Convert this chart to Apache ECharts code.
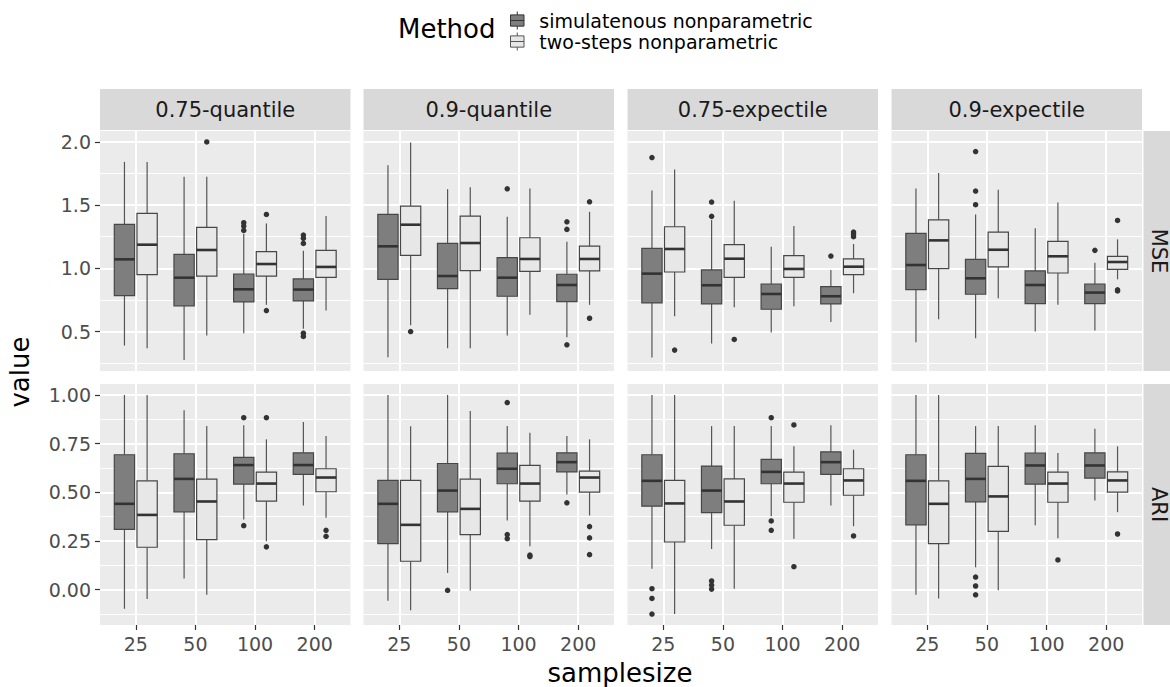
<!DOCTYPE html>
<html><head><meta charset="utf-8">
<script src="https://cdn.jsdelivr.net/npm/echarts@6/dist/echarts.min.js"></script>
<style>html,body{margin:0;padding:0;background:#fff}#c{width:1170px;height:687px}</style>
</head><body><div id="c"></div>
<script>
// ---------- data ----------
const samplesizes = ['25', '50', '100', '200'];
const measures = ['0.75-quantile', '0.9-quantile', '0.75-expectile', '0.9-expectile'];
const metrics = ['MSE', 'ARI'];
const methods = ['simulatenous nonparametric', 'two-steps nonparametric'];
const mseTicks = [0.5, 1.0, 1.5, 2.0];
const mseTickLabels = ['0.5', '1.0', '1.5', '2.0'];
const mseMinor = [0.25, 0.75, 1.25, 1.75];
const ariTicks = [0, 0.25, 0.5, 0.75, 1.0];
const ariTickLabels = ['0.00', '0.25', '0.50', '0.75', '1.00'];
const ariMinor = [-0.125, 0.125, 0.375, 0.625, 0.875];

// each box: [lower whisker, Q1, median, Q3, upper whisker], one per sample size
const mse_q075_sim = [[0.389,0.784,1.071,1.347,1.842],[0.274,0.703,0.926,1.111,1.724],[0.487,0.734,0.834,0.955,1.274],[0.521,0.742,0.832,0.916,1.139]];
const mse_q075_sim_out = [[],[],[1.361,1.334,1.300],[1.263,1.237,1.197,0.487,0.461]];
const mse_q075_two = [[0.368,0.950,1.187,1.434,1.842],[0.468,0.939,1.145,1.324,1.724],[0.711,0.939,1.034,1.132,1.355],[0.666,0.929,1.011,1.142,1.413]];
const mse_q075_two_out = [[],[2.0],[1.426,0.666],[]];
const mse_q09_sim = [[0.297,0.913,1.174,1.426,1.816],[0.368,0.839,0.939,1.197,1.626],[0.468,0.779,0.926,1.084,1.408],[0.455,0.737,0.868,0.953,1.211]];
const mse_q09_sim_out = [[],[],[1.629],[1.368,1.308,0.395]];
const mse_q09_two = [[0.55,1.103,1.345,1.492,1.995],[0.368,0.982,1.200,1.413,1.642],[0.632,0.976,1.074,1.242,1.632],[0.711,0.979,1.074,1.176,1.447]];
const mse_q09_two_out = [[0.50],[],[],[1.526,0.605]];
const mse_e075_sim = [[0.295,0.726,0.958,1.158,1.616],[0.405,0.718,0.866,0.987,1.382],[0.492,0.676,0.797,0.876,1.171],[0.576,0.718,0.779,0.855,0.987]];
const mse_e075_sim_out = [[1.876],[1.524,1.411],[],[1.097]];
const mse_e075_two = [[0.621,0.971,1.153,1.329,1.782],[0.692,0.929,1.076,1.187,1.534],[0.700,0.929,0.995,1.100,1.334],[0.803,0.950,1.013,1.074,1.192]];
const mse_e075_two_out = [[0.353],[0.437],[],[1.287,1.271,1.250]];
const mse_e09_sim = [[0.416,0.832,1.026,1.276,1.632],[0.447,0.795,0.921,1.071,1.426],[0.500,0.721,0.868,0.979,1.316],[0.508,0.721,0.808,0.876,1.045]];
const mse_e09_sim_out = [[],[1.924,1.611,1.503],[],[1.142]];
const mse_e09_two = [[0.597,0.997,1.221,1.384,1.755],[0.763,1.011,1.147,1.287,1.621],[0.711,0.963,1.095,1.213,1.521],[0.913,0.992,1.050,1.095,1.229]];
const mse_e09_two_out = [[],[],[],[1.379,0.830,0.821]];

const ari_q075_sim = [[-0.098,0.310,0.441,0.693,1.0],[0.057,0.400,0.569,0.698,0.921],[0.36,0.542,0.640,0.679,0.844],[0.432,0.592,0.640,0.703,0.861]];
const ari_q075_sim_out = [[],[],[0.883,0.329],[]];
const ari_q075_two = [[-0.048,0.218,0.384,0.559,1.0],[-0.026,0.257,0.453,0.568,0.840],[0.249,0.455,0.545,0.604,0.772],[0.369,0.503,0.576,0.621,0.789]];
const ari_q075_two_out = [[],[],[0.883,0.220],[0.305,0.274]];
const ari_q09_sim = [[-0.057,0.237,0.441,0.561,1.0],[0.086,0.400,0.509,0.648,1.0],[0.355,0.544,0.621,0.702,0.840],[0.489,0.605,0.655,0.703,0.789]];
const ari_q09_sim_out = [[],[-0.003],[0.961,0.283,0.262],[0.446]];
const ari_q09_two = [[-0.105,0.146,0.333,0.561,0.839],[-0.005,0.283,0.415,0.568,0.918],[0.223,0.455,0.545,0.638,0.806],[0.381,0.501,0.576,0.609,0.772]];
const ari_q09_two_out = [[],[],[0.178,0.170],[0.324,0.266,0.180]];
const ari_e075_sim = [[0.108,0.429,0.559,0.693,1.0],[0.209,0.396,0.509,0.635,0.840],[0.377,0.544,0.605,0.669,0.840],[0.432,0.592,0.655,0.708,0.844]];
const ari_e075_sim_out = [[0.005,-0.045,-0.125],[0.045,0.024,0.003],[0.883,0.353,0.305],[]];
const ari_e075_two = [[-0.125,0.245,0.443,0.561,1.0],[0.005,0.331,0.453,0.569,0.840],[0.262,0.449,0.545,0.604,0.736],[0.326,0.485,0.561,0.621,0.719]];
const ari_e075_two_out = [[],[],[0.846,0.118],[0.276]];
const ari_e09_sim = [[-0.026,0.333,0.559,0.693,1.0],[0.115,0.451,0.569,0.700,0.840],[0.331,0.542,0.638,0.702,0.844],[0.458,0.573,0.638,0.703,0.827]];
const ari_e09_sim_out = [[],[0.065,0.019,-0.026],[],[]];
const ari_e09_two = [[-0.045,0.237,0.441,0.559,1.0],[-0.003,0.300,0.479,0.633,0.840],[0.264,0.449,0.545,0.604,0.702],[0.398,0.501,0.561,0.605,0.736]];
const ari_e09_two_out = [[],[],[0.153],[0.286]];

// ---------- layout / style ----------
const FONT = 'DejaVu Sans';
const colLeft = [100, 363.5, 627.5, 891.5];
const PW = 250.5;
const rowTop = [131, 384];
const rowH = [240, 241];
const fills = ['#7e7e7e', '#e7e7e7'];
const DODGE = 0.19, BOXW = 0.34;

const panelSets = [
  [[mse_q075_sim, mse_q075_sim_out, mse_q075_two, mse_q075_two_out],
   [mse_q09_sim, mse_q09_sim_out, mse_q09_two, mse_q09_two_out],
   [mse_e075_sim, mse_e075_sim_out, mse_e075_two, mse_e075_two_out],
   [mse_e09_sim, mse_e09_sim_out, mse_e09_two, mse_e09_two_out]],
  [[ari_q075_sim, ari_q075_sim_out, ari_q075_two, ari_q075_two_out],
   [ari_q09_sim, ari_q09_sim_out, ari_q09_two, ari_q09_two_out],
   [ari_e075_sim, ari_e075_sim_out, ari_e075_two, ari_e075_two_out],
   [ari_e09_sim, ari_e09_sim_out, ari_e09_two, ari_e09_two_out]]
];
const rowTicks = [mseTicks, ariTicks];
const rowTickLabels = [mseTickLabels, ariTickLabels];
const rowMinor = [mseMinor, ariMinor];

function rowRange(r) {
  let lo = Infinity, hi = -Infinity;
  panelSets[r].forEach(set => set.forEach(arr => arr.forEach(item => {
    (Array.isArray(item) ? item : [item]).forEach(v => { lo = Math.min(lo, v); hi = Math.max(hi, v); });
  })));
  const pad = (hi - lo) * 0.05;
  return [lo - pad, hi + pad];
}

function makeRender(m) {
  const off = m === 0 ? -DODGE : DODGE;
  return function (params, api) {
    const x = api.value(0) + off;
    const pMin = api.coord([x, api.value(1)]);
    const pQ1 = api.coord([x, api.value(2)]);
    const pMed = api.coord([x, api.value(3)]);
    const pQ3 = api.coord([x, api.value(4)]);
    const pMax = api.coord([x, api.value(5)]);
    const w = api.size([BOXW, 0])[0];
    const cx = pMed[0];
    const wl = {stroke: '#555', lineWidth: 1.2};
    return {type: 'group', children: [
      {type: 'line', shape: {x1: cx, y1: pMax[1], x2: cx, y2: pQ3[1]}, style: wl},
      {type: 'line', shape: {x1: cx, y1: pQ1[1], x2: cx, y2: pMin[1]}, style: wl},
      {type: 'rect', shape: {x: cx - w / 2, y: pQ3[1], width: w, height: pQ1[1] - pQ3[1]},
       style: {fill: fills[m], stroke: '#474747', lineWidth: 1.2}},
      {type: 'line', shape: {x1: cx - w / 2, y1: pMed[1], x2: cx + w / 2, y2: pMed[1]},
       style: {stroke: '#333', lineWidth: 2.6}}
    ]};
  };
}

const grid = [], xAxis = [], yAxis = [], series = [], graphic = [];
for (let r = 0; r < 2; r++) {
  const [lo, hi] = rowRange(r);
  for (let c = 0; c < 4; c++) {
    const g = r * 4 + c;
    grid.push({left: colLeft[c], top: rowTop[r], width: PW, height: rowH[r], show: true,
      backgroundColor: '#EBEBEB', borderWidth: 0, containLabel: false, outerBoundsMode: 'none'});
    xAxis.push({type: 'value', gridIndex: g, min: 0.4, max: 4.6, position: 'bottom',
      axisLine: {show: false, onZero: false},
      axisTick: {show: r === 1, customValues: [1, 2, 3, 4], length: 5, lineStyle: {color: '#333', width: 1.2}},
      axisLabel: {show: r === 1, customValues: [1, 2, 3, 4], formatter: v => samplesizes[Math.round(v) - 1],
        fontSize: 19, fontFamily: FONT, color: '#4D4D4D', margin: 9},
      splitLine: {show: true, lineStyle: {color: '#fff', width: 2}}});
    const ticks = rowTicks[r], labs = rowTickLabels[r];
    yAxis.push({type: 'value', gridIndex: g, min: lo, max: hi, position: 'left',
      axisLine: {show: false, onZero: false},
      axisTick: {show: c === 0, customValues: ticks, length: 5, lineStyle: {color: '#333', width: 1.2}},
      axisLabel: {show: c === 0, customValues: ticks,
        formatter: v => labs[ticks.findIndex(t => Math.abs(t - v) < 1e-6)],
        fontSize: 19, fontFamily: FONT, color: '#4D4D4D', margin: 9},
      splitLine: {show: true, lineStyle: {color: '#fff', width: 2}}});
    yAxis.push({type: 'value', gridIndex: g, min: lo, max: hi, position: 'left',
      axisLine: {show: false, onZero: false},
      axisTick: {show: false, customValues: rowMinor[r]},
      axisLabel: {show: false, customValues: rowMinor[r]},
      splitLine: {show: true, lineStyle: {color: '#fff', width: 1}}});
    const set = panelSets[r][c];
    for (let m = 0; m < 2; m++) {
      const boxes = set[m * 2], outs = set[m * 2 + 1];
      const off = m === 0 ? -DODGE : DODGE;
      series.push({type: 'custom', name: methods[m], xAxisIndex: g, yAxisIndex: 2 * g, z: 2,
        itemStyle: {color: fills[m]},
        encode: {x: 0, y: [1, 2, 3, 4, 5]},
        data: boxes.map((b, i) => [i + 1].concat(b)),
        renderItem: makeRender(m), silent: true});
      series.push({type: 'scatter', name: methods[m], xAxisIndex: g, yAxisIndex: 2 * g, z: 3,
        symbol: 'circle', symbolSize: 5.5, itemStyle: {color: '#333', opacity: 1}, silent: true,
        data: outs.flatMap((arr, i) => arr.map(v => [i + 1 + off, v]))});
    }
  }
}

// strips
for (let c = 0; c < 4; c++) {
  graphic.push({type: 'rect', shape: {x: colLeft[c], y: 89, width: PW, height: 41}, style: {fill: '#D9D9D9'}, silent: true});
  graphic.push({type: 'text', x: colLeft[c] + PW / 2, y: 110,
    style: {text: measures[c], fontSize: 21, fontFamily: FONT, fill: '#1A1A1A', align: 'center', verticalAlign: 'middle'}});
}
for (let r = 0; r < 2; r++) {
  graphic.push({type: 'rect', shape: {x: 1143.5, y: rowTop[r], width: 27, height: rowH[r]}, style: {fill: '#D9D9D9'}, silent: true});
  graphic.push({type: 'text', x: 1159, y: rowTop[r] + rowH[r] / 2, rotation: -Math.PI / 2,
    style: {text: metrics[r], fontSize: 21, fontFamily: FONT, fill: '#1A1A1A', align: 'center', verticalAlign: 'middle'}});
}
// axis titles
graphic.push({type: 'text', x: 20, y: 372, rotation: Math.PI / 2,
  style: {text: 'value', fontSize: 26, fontFamily: FONT, fill: '#000', align: 'center', verticalAlign: 'middle'}});
graphic.push({type: 'text', x: 620, y: 673,
  style: {text: 'samplesize', fontSize: 26, fontFamily: FONT, fill: '#000', align: 'center', verticalAlign: 'middle'}});
graphic.push({type: 'text', x: 398, y: 29,
  style: {text: 'Method', fontSize: 26, fontFamily: FONT, fill: '#000', align: 'left', verticalAlign: 'middle'}});

const boxIcon = 'path://M6,0L6,3M0,3L12,3L12,13L0,13ZM0,8L12,8M6,13L6,16';

const chart = echarts.init(document.getElementById('c'), null, {renderer: 'svg'});
chart.setOption({
  animation: false,
  backgroundColor: '#fff',
  grid, xAxis, yAxis, series, graphic,
  legend: {
    orient: 'vertical', left: 505, top: 6, itemWidth: 26, itemHeight: 18, itemGap: 2,
    selectedMode: false,
    textStyle: {fontSize: 19, fontFamily: FONT, color: '#000', lineHeight: 18, padding: [0, 0, 0, 4]},
    data: [
      {name: methods[0], icon: boxIcon, itemStyle: {color: fills[0], borderColor: '#333', borderWidth: 1}},
      {name: methods[1], icon: boxIcon, itemStyle: {color: fills[1], borderColor: '#555', borderWidth: 1}}
    ]
  }
});
</script></body></html>
